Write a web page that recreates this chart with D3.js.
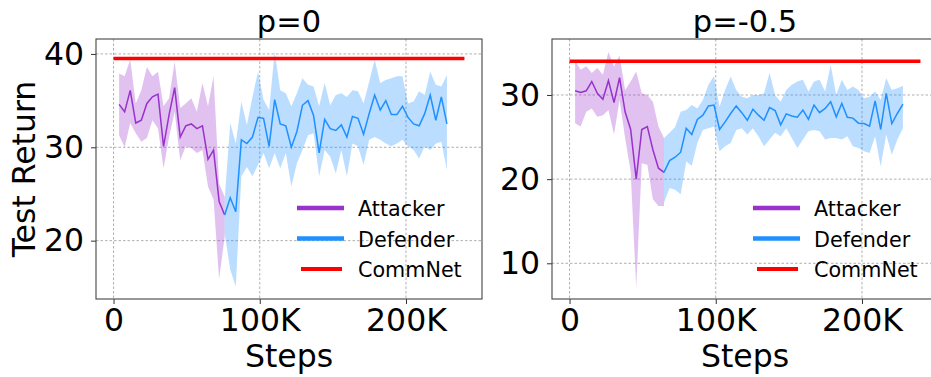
<!DOCTYPE html>
<html>
<head>
<meta charset="utf-8">
<script src="https://cdn.jsdelivr.net/npm/d3@7"></script>
<style>
  body { margin: 0; background: #fff; }
  svg { display: block; font-family: "DejaVu Sans", sans-serif; }
</style>
</head>
<body>
<svg id="chart" width="931" height="377"></svg>
<script>
// Training steps at which each evaluation was logged
const steps = [3800, 7600, 11400, 15200, 19000, 22800, 26600, 30400, 34200, 38000,
  41800, 45600, 49400, 53200, 57000, 60800, 64600, 68400, 72200, 76000,
  79800, 83600, 87400, 91200, 95000, 98800, 102600, 106400, 110200, 114000,
  117800, 121600, 125400, 129200, 133000, 136800, 140600, 144400, 148200, 152000,
  155800, 159600, 163400, 167200, 171000, 174800, 178600, 182400, 186200, 190000,
  193800, 197600, 201400, 205200, 209000, 212800, 216600, 220400, 224200, 228000];

const xTickValues = [0, 100000, 200000];
const commnetSpan = [0, 240000];

// p=0: attacker phase (first 20 evaluations), defender phase (from the 20th on)
const p0AttackerMean  = [34.6, 33.8, 36.1, 32.6, 32.9, 34.7, 35.4, 35.7, 30.1, 33.5, 36.4, 31.1, 32.3, 32.5, 32.0, 32.3, 28.7, 29.7, 24.2, 22.75];
const p0AttackerUpper = [37.9, 37.6, 39.4, 34.7, 36.1, 38.6, 37.6, 38.1, 34.4, 35.25, 39.2, 34.2, 34.7, 35.25, 33.8, 36.9, 34.4, 37.6, 26.1, 24.7];
const p0AttackerLower = [31.3, 30.0, 32.6, 31.5, 30.6, 31.0, 32.9, 32.0, 27.75, 31.1, 33.8, 28.6, 30.1, 29.9, 29.4, 29.7, 25.8, 24.4, 15.9, 20.4];
const p0DefenderMean  = [22.75, 24.6, 23.1, 30.8, 30.4, 31.1, 33.2, 33.1, 30.1, 35.1, 32.5, 32.3, 30.0, 31.7, 34.5, 35.0, 33.4, 29.4, 33.0, 32.0, 31.8, 32.4, 31.1, 33.3, 33.1, 31.4, 33.6, 35.6, 34.0, 35.0, 33.5, 33.5, 34.4, 33.2, 32.5, 32.3, 33.6, 35.6, 32.9, 35.4, 32.5];
const p0DefenderUpper = [24.4, 32.6, 30.4, 34.9, 32.4, 35.4, 38.1, 35.1, 34.0, 40.25, 36.1, 35.8, 34.4, 35.8, 37.4, 36.7, 36.5, 34.4, 36.9, 34.5, 35.6, 35.8, 35.4, 36.1, 36.0, 34.7, 37.0, 39.4, 36.9, 37.2, 37.4, 37.6, 37.6, 34.7, 34.9, 36.0, 35.6, 38.1, 36.7, 36.5, 37.75];
const p0DefenderLower = [20.8, 16.9, 15.1, 26.9, 27.9, 26.9, 28.1, 29.4, 27.75, 29.4, 27.75, 29.4, 25.8, 28.3, 29.7, 31.3, 31.5, 26.9, 29.7, 29.0, 27.2, 29.7, 26.9, 30.4, 30.1, 28.1, 30.8, 31.1, 30.8, 30.4, 30.1, 30.4, 30.8, 30.1, 29.7, 28.8, 30.1, 29.7, 30.4, 30.6, 27.6];
const p0CommNet = 39.5;
const p0YTicks = [20, 30, 40];

// p=-0.5: attacker phase (first 17 evaluations), defender phase (from the 17th on)
const pm05AttackerMean  = [30.5, 30.3, 30.5, 31.6, 30.2, 29.5, 31.7, 29.1, 32.05, 28.0, 25.9, 20.0, 25.9, 26.25, 23.5, 21.3, 20.8];
const pm05AttackerUpper = [34.1, 33.0, 33.4, 32.6, 33.2, 32.4, 35.1, 33.35, 34.7, 30.6, 31.6, 32.8, 30.2, 30.0, 29.2, 26.25, 24.9];
const pm05AttackerLower = [26.65, 26.25, 28.0, 28.4, 27.4, 27.6, 28.2, 25.3, 29.4, 24.9, 20.9, 7.1, 21.9, 21.7, 17.6, 16.8, 16.8];
const pm05DefenderMean  = [20.8, 22.2, 22.6, 23.2, 26.05, 25.3, 27.1, 27.6, 28.7, 28.8, 25.9, 26.8, 27.8, 28.7, 27.9, 27.0, 28.3, 27.6, 27.0, 28.5, 28.15, 26.45, 27.75, 27.5, 27.35, 28.2, 27.1, 28.8, 27.9, 28.4, 29.2, 27.4, 29.0, 27.35, 27.25, 26.65, 26.6, 26.3, 29.3, 25.9, 30.2, 26.6, 27.8, 28.9];
const pm05DefenderUpper = [24.9, 25.5, 26.2, 28.0, 28.2, 28.8, 28.4, 29.4, 31.2, 32.25, 28.6, 30.6, 32.2, 30.6, 29.8, 29.6, 30.0, 30.0, 30.2, 32.6, 30.0, 29.2, 30.6, 31.2, 31.6, 31.8, 30.4, 31.6, 31.8, 30.4, 33.55, 30.0, 31.8, 30.6, 31.0, 30.6, 29.6, 29.8, 30.4, 29.4, 32.0, 30.6, 30.8, 31.1];
const pm05DefenderLower = [17.2, 18.95, 18.75, 18.2, 22.1, 21.6, 24.3, 25.85, 26.05, 26.25, 23.3, 23.9, 24.3, 25.85, 26.05, 25.3, 26.05, 25.1, 23.9, 24.7, 25.5, 25.1, 26.05, 24.9, 23.7, 24.7, 25.7, 25.85, 25.7, 24.7, 24.9, 24.9, 24.7, 25.1, 23.9, 23.7, 23.3, 23.1, 25.1, 21.5, 25.3, 22.9, 24.7, 26.05];
const pm05CommNet = 34.0;
const pm05YTicks = [10, 20, 30];

const legendLabels = ["Attacker", "Defender", "CommNet"];

const COLORS = { attacker: "#9932CC", defender: "#1E90FF", commnet: "#FF0000" };

// Pair a run of evaluations with the steps they start at
function series(offset, mean, upper, lower) {
  return mean.map((m, i) => ({ step: steps[offset + i], mean: m, hi: upper[i], lo: lower[i] }));
}

const panels = [
  {
    title: "p=0", left: 96, yDomain: [13.75, 41.6], yTicks: p0YTicks, commnet: p0CommNet,
    attacker: series(0, p0AttackerMean, p0AttackerUpper, p0AttackerLower),
    defender: series(p0AttackerMean.length - 1, p0DefenderMean, p0DefenderUpper, p0DefenderLower),
    yLabel: "Test Return"
  },
  {
    title: "p=-0.5", left: 552, yDomain: [5.76, 36.65], yTicks: pm05YTicks, commnet: pm05CommNet,
    attacker: series(0, pm05AttackerMean, pm05AttackerUpper, pm05AttackerLower),
    defender: series(pm05AttackerMean.length - 1, pm05DefenderMean, pm05DefenderUpper, pm05DefenderLower),
    yLabel: null
  }
];

const svg = d3.select("#chart");
const TOP = 39, W = 386, H = 260;
const TICK_FS = 31.5, LABEL_FS = 31.5, TITLE_FS = 30.5, LEGEND_FS = 20.7;
const fmtStep = d => d === 0 ? "0" : (d / 1000) + "K";

panels.forEach(p => {
  const g = svg.append("g").attr("transform", `translate(${p.left},${TOP})`);
  const x = d3.scaleLinear().domain([-12000, 252000]).range([0, W]);
  const y = d3.scaleLinear().domain(p.yDomain).range([H, 0]);

  // dashed grid
  const grid = g.append("g").attr("stroke", "#9a9a9a").attr("stroke-width", 0.8).attr("stroke-dasharray", "2.5,2");
  grid.selectAll(".gx").data(xTickValues).join("line")
    .attr("x1", d => x(d)).attr("x2", d => x(d)).attr("y1", 0).attr("y2", H);
  grid.selectAll(".gy").data(p.yTicks).join("line")
    .attr("x1", 0).attr("x2", W).attr("y1", d => y(d)).attr("y2", d => y(d));

  const area = d3.area().x(d => x(d.step)).y0(d => y(d.lo)).y1(d => y(d.hi));
  const line = d3.line().x(d => x(d.step)).y(d => y(d.mean));

  g.append("path").datum(p.attacker).attr("d", area).attr("fill", COLORS.attacker).attr("fill-opacity", 0.3);
  g.append("path").datum(p.defender).attr("d", area).attr("fill", COLORS.defender).attr("fill-opacity", 0.3);
  g.append("path").datum(p.attacker).attr("d", line).attr("fill", "none").attr("stroke", COLORS.attacker).attr("stroke-width", 1.5);
  g.append("path").datum(p.defender).attr("d", line).attr("fill", "none").attr("stroke", COLORS.defender).attr("stroke-width", 1.5);

  g.append("line")
    .attr("x1", x(commnetSpan[0])).attr("x2", x(commnetSpan[1]))
    .attr("y1", y(p.commnet)).attr("y2", y(p.commnet))
    .attr("stroke", COLORS.commnet).attr("stroke-width", 3.5);

  // axes
  const xAxis = g.append("g").attr("transform", `translate(0,${H})`)
    .call(d3.axisBottom(x).tickValues(xTickValues).tickFormat(fmtStep).tickSize(5).tickPadding(5));
  const yAxis = g.append("g")
    .call(d3.axisLeft(y).tickValues(p.yTicks).tickFormat(d3.format("d")).tickSize(5).tickPadding(7));
  [xAxis, yAxis].forEach(a => {
    a.select(".domain").remove();
    a.selectAll(".tick line").attr("stroke", "#333").attr("stroke-width", 1);
    a.selectAll(".tick text").attr("font-size", TICK_FS).attr("fill", "#000").attr("font-family", "DejaVu Sans");
  });

  g.append("rect").attr("x", 0).attr("y", 0).attr("width", W).attr("height", H)
    .attr("fill", "none").attr("stroke", "#444").attr("stroke-width", 1.1);

  g.append("text").attr("x", W / 2).attr("y", -7).attr("text-anchor", "middle")
    .attr("font-size", TITLE_FS).text(p.title);
  g.append("text").attr("x", W / 2).attr("y", H + 68).attr("text-anchor", "middle")
    .attr("font-size", LABEL_FS).text("Steps");
  if (p.yLabel) {
    g.append("text").attr("transform", `translate(${35 - p.left},${H / 2}) rotate(-90)`)
      .attr("text-anchor", "middle").attr("font-size", LABEL_FS).text(p.yLabel);
  }

  // legend
  const lg = g.append("g").attr("transform", `translate(${W - 185},${169})`);
  const legendColors = [COLORS.attacker, COLORS.defender, COLORS.commnet];
  legendLabels.forEach((lab, i) => {
    const row = lg.append("g").attr("transform", `translate(0,${i * 30.5})`);
    row.append("line").attr("x1", i === 2 ? 4 : 0).attr("x2", i === 2 ? 45 : 47)
      .attr("stroke", legendColors[i]).attr("stroke-width", i === 2 ? 4 : 4.5);
    row.append("text").attr("x", 61).attr("y", 8).attr("font-size", LEGEND_FS).text(lab);
  });
});
</script>
</body>
</html>
